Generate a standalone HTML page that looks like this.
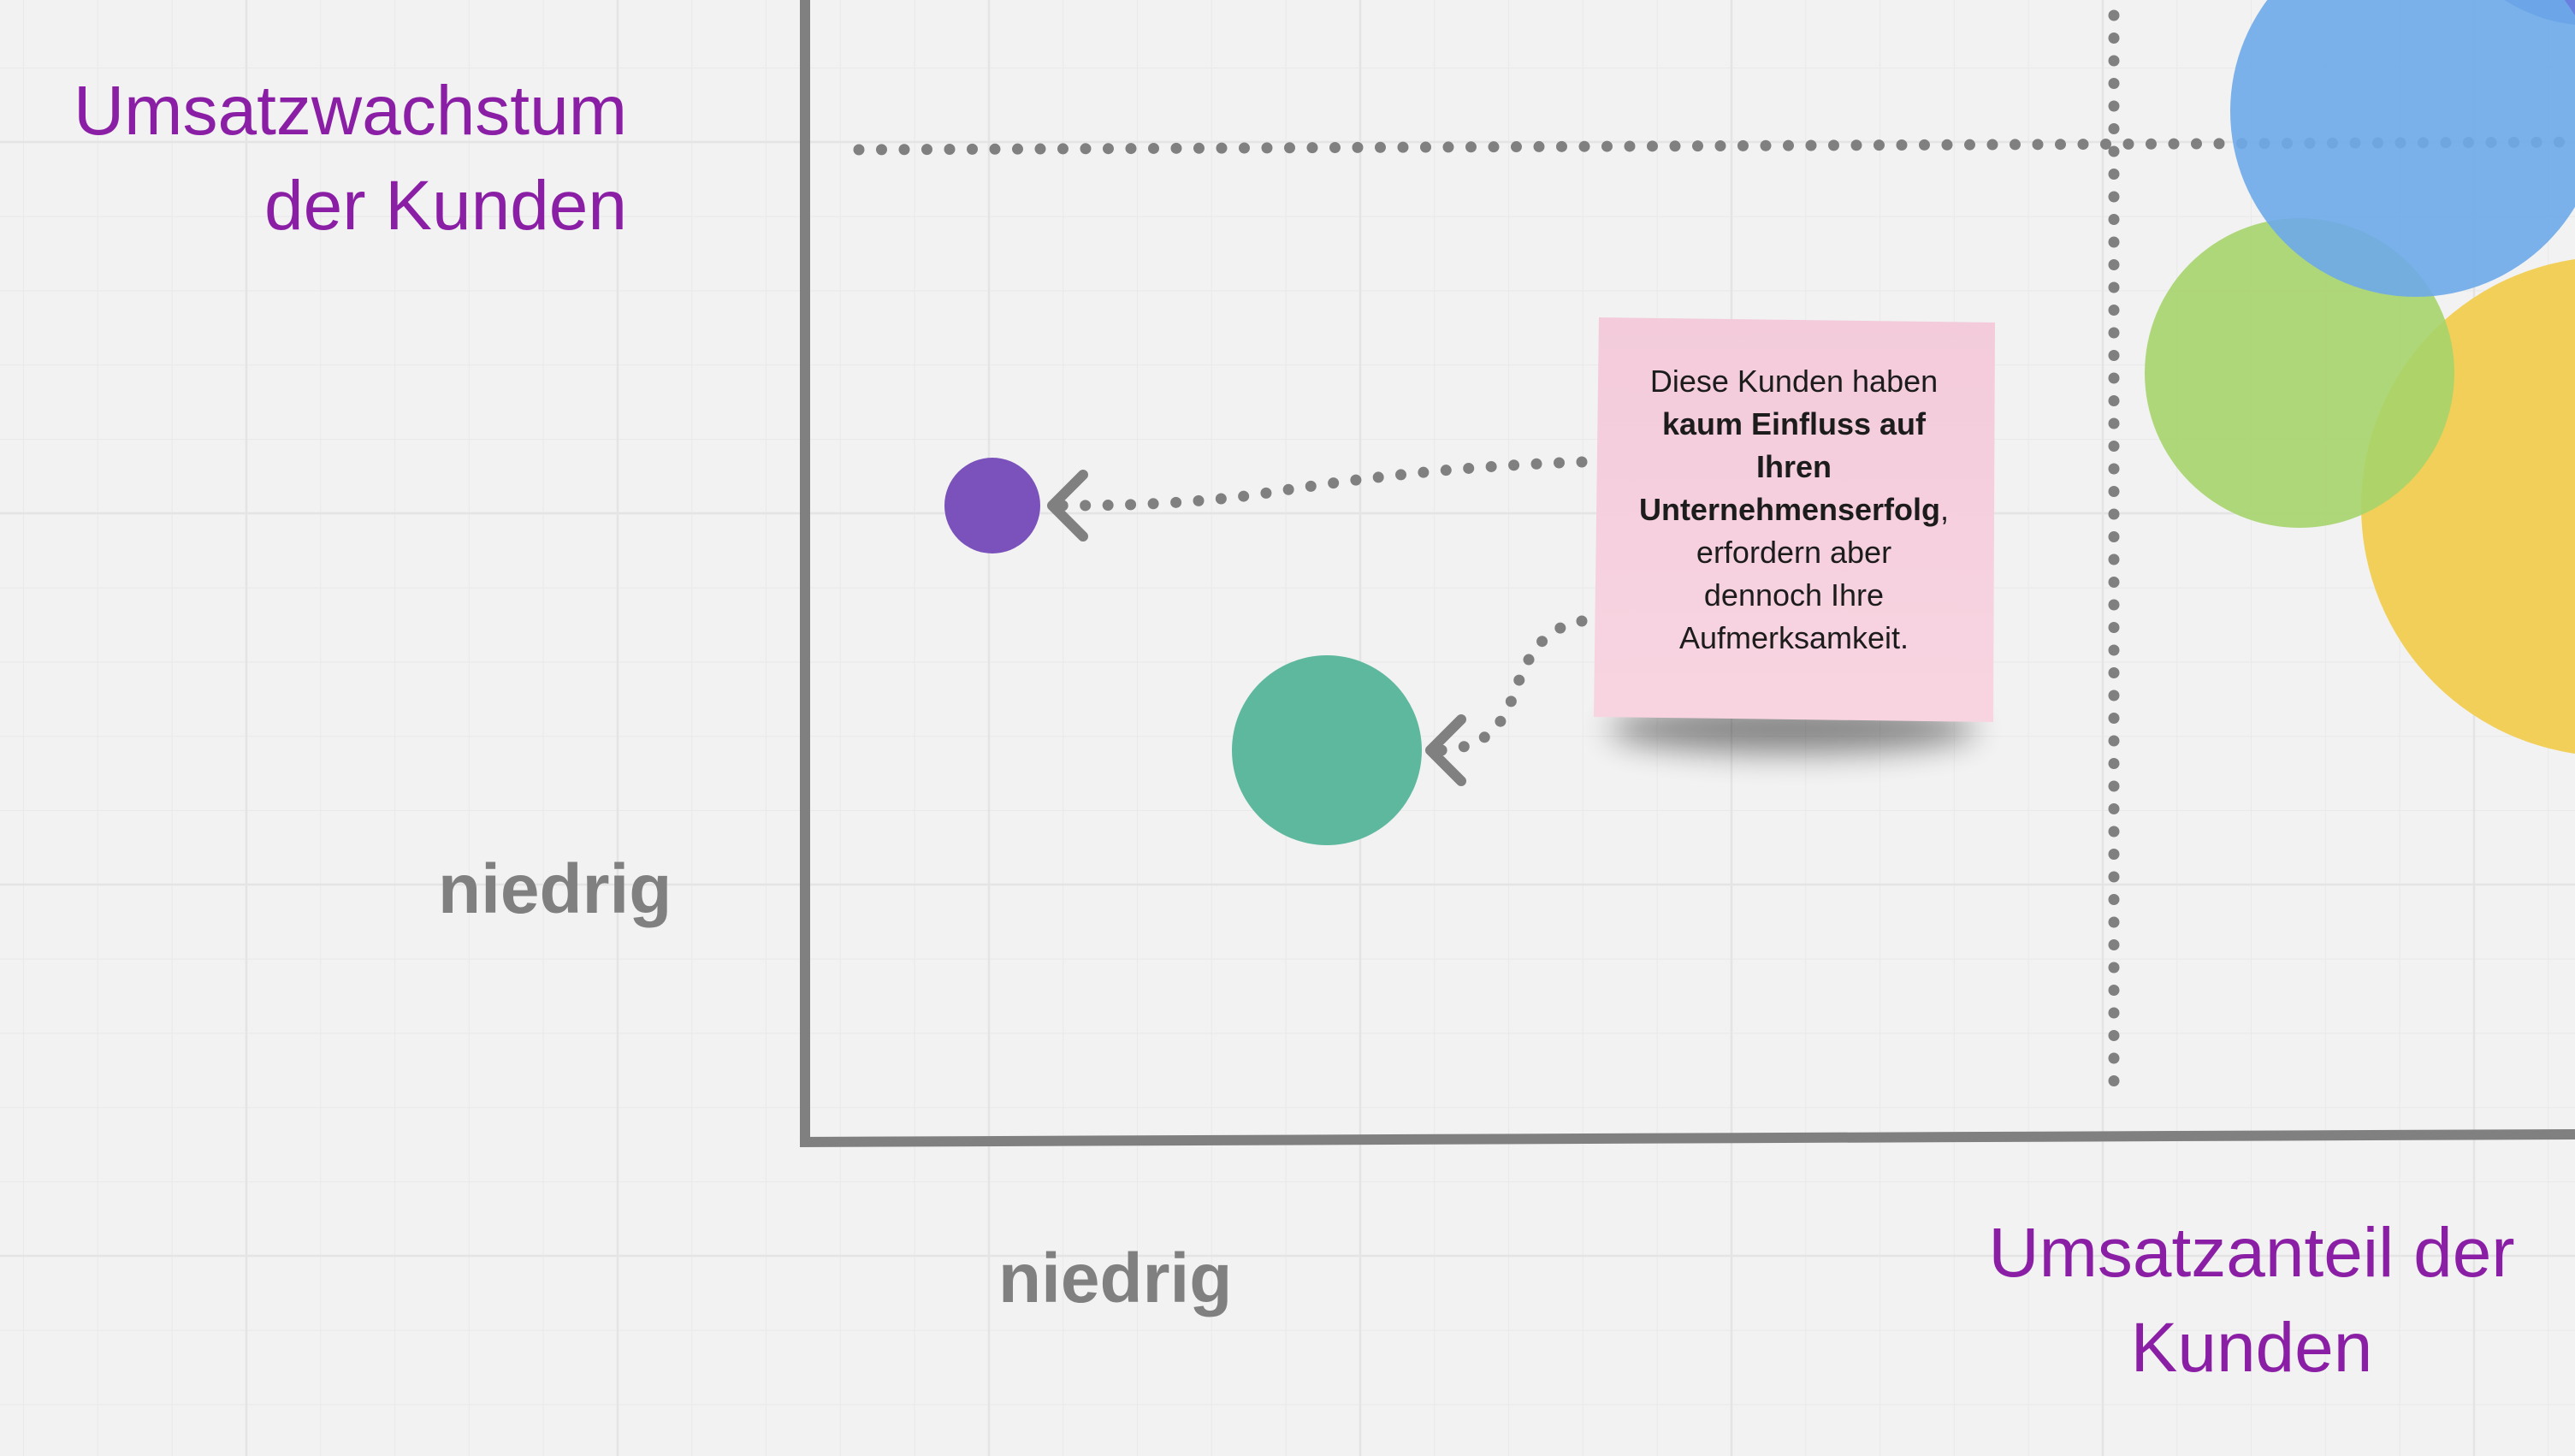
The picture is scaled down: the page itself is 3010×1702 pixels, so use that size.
<!DOCTYPE html>
<html><head><meta charset="utf-8"><style>
html,body{margin:0;padding:0;}
body{width:3010px;height:1702px;position:relative;overflow:hidden;background:#f2f2f2;font-family:"Liberation Sans",sans-serif;}
svg{position:absolute;left:0;top:0;}
.t{position:absolute;white-space:nowrap;}
</style></head><body>
<svg width="3010" height="1702" viewBox="0 0 3010 1702">
<defs>
<pattern id="g" x="27" y="79" width="86.8" height="86.8" patternUnits="userSpaceOnUse">
<path d="M0 0V86.8M0 0H86.8" stroke="#e9e9e9" stroke-width="2" fill="none"/>
</pattern>
<filter id="bl" x="-50%" y="-200%" width="200%" height="500%"><feGaussianBlur stdDeviation="18"/></filter>
<linearGradient id="pk" x1="0" y1="0" x2="0" y2="1"><stop offset="0" stop-color="#f3cbdb"/><stop offset="1" stop-color="#f8d4e1"/></linearGradient>
</defs>
<rect width="3010" height="1702" fill="url(#g)"/>
<g stroke="#e4e4e4" stroke-width="2.5">
<line x1="288" y1="0" x2="288" y2="1702"/><line x1="722" y1="0" x2="722" y2="1702"/><line x1="1156" y1="0" x2="1156" y2="1702"/><line x1="1590" y1="0" x2="1590" y2="1702"/><line x1="2024" y1="0" x2="2024" y2="1702"/><line x1="2458" y1="0" x2="2458" y2="1702"/><line x1="2892" y1="0" x2="2892" y2="1702"/>
<line x1="0" y1="166" x2="3010" y2="166"/><line x1="0" y1="600" x2="3010" y2="600"/><line x1="0" y1="1034" x2="3010" y2="1034"/><line x1="0" y1="1468" x2="3010" y2="1468"/>
</g>
<line x1="941" y1="0" x2="941" y2="1331" stroke="#808080" stroke-width="12"/>
<line x1="935" y1="1335" x2="3010" y2="1326" stroke="#808080" stroke-width="12"/>
<g stroke="#808080" stroke-width="13" stroke-linecap="round" stroke-dasharray="0 26.5" fill="none">
<line x1="1004" y1="175" x2="3010" y2="166"/>
<line x1="2471" y1="18" x2="2471" y2="1267"/>
<path d="M1849 540 C1700 545 1580 560 1470 578 C1380 590 1300 591 1240 591"/>
<path d="M1849 726 C1800 735 1785 770 1770 810 C1755 855 1730 874 1685 877"/>
</g>
<g stroke="#808080" stroke-width="12" fill="none" stroke-linecap="round" stroke-linejoin="round">
<polyline points="1266,555 1230,591 1266,627"/>
<polyline points="1708,841 1672,877 1708,913"/>
</g>
<circle cx="1160" cy="591" r="56" fill="#7b52bb"/>
<circle cx="1551" cy="877" r="111" fill="#5eb89e"/>
<circle cx="3030" cy="-160" r="190" fill="#6a80de"/>
<circle cx="3052" cy="592" r="292" fill="#f2cf58"/>
<circle cx="2688" cy="436" r="181" fill="#a6d46c" fill-opacity="0.9"/>
<circle cx="2824" cy="130" r="217" fill="#6daaea" fill-opacity="0.9"/>
<ellipse cx="2095" cy="852" rx="215" ry="28" fill="#000" opacity="0.45" filter="url(#bl)"/>
<polygon points="1869,371 2332,377 2330,844 1863,838" fill="url(#pk)"/>
</svg>
<div class="t" style="right:2277px;top:74px;font-size:82px;color:#8a1fa6;text-align:right;line-height:111px;">Umsatzwachstum<br>der Kunden</div>
<div class="t" style="left:512px;top:993px;font-size:82px;font-weight:bold;color:#808080;">niedrig</div>
<div class="t" style="left:1167px;top:1448px;font-size:82px;font-weight:bold;color:#808080;">niedrig</div>
<div class="t" style="left:2232px;top:1409px;width:800px;text-align:center;font-size:82px;color:#8a1fa6;line-height:111px;">Umsatzanteil der<br>Kunden</div>
<div class="t" style="left:1897px;top:421px;width:400px;text-align:center;font-size:36px;line-height:50px;color:#1c1c1c;">Diese Kunden haben<br><b>kaum Einfluss auf<br>Ihren<br>Unternehmenserfolg</b>,<br>erfordern aber<br>dennoch Ihre<br>Aufmerksamkeit.</div>
</body></html>
